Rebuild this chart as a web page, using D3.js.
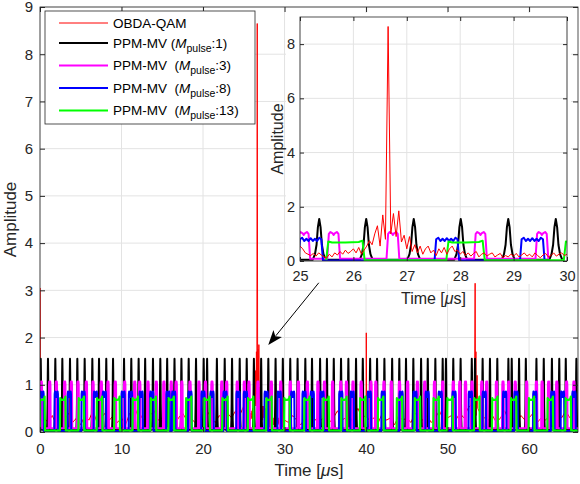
<!DOCTYPE html>
<html>
<head>
<meta charset="utf-8">
<script src="https://cdn.jsdelivr.net/npm/d3@7"></script>
<style>
	body { margin: 0; background: #fff; }
	svg { font-family: "Liberation Sans", Arial, Helvetica, sans-serif; }
	.tick text { fill: #262626; }
	.axis line { stroke: #262626; }
	.axis path { display: none; }
	.grid line { stroke: #e3e3e3; stroke-width: 1; }
</style>
</head>
<body>
<div id="graphic"></div>
<script>
// ---- data ----
const xTicks = [0, 10, 20, 30, 40, 50, 60];
const yTicks = [0, 1, 2, 3, 4, 5, 6, 7, 8, 9];
const insetXTicks = [25, 26, 27, 28, 29, 30];
const insetYTicks = [0, 2, 4, 6, 8];

const seriesNames = ['OBDA-QAM', 'PPM-MV', 'PPM-MV', 'PPM-MV', 'PPM-MV'];
const seriesMpulse = [null, 1, 3, 8, 13];
const seriesColours = ['#ff0000', '#000000', '#ff00ff', '#0000ff', '#00ff00'];

// pulse centres in microseconds
const blackPulses = [0.09, 0.98, 1.88, 2.74, 3.68, 4.58, 5.48, 6.42, 7.24, 8.13, 8.96, 10.31, 11.2, 12.1, 12.9,
	13.86, 14.76, 15.6, 16.5, 17.35, 18.24, 19.14, 20.08, 20.5, 21.7, 22.66, 23.56, 24.5, 25.36, 26.24, 27.13,
	28.01, 28.9, 29.79, 30.7, 31.6, 32.55, 33.37, 34.36, 35.2, 36.04, 36.93, 37.83, 38.77, 39.6, 40.5, 41.35,
	42.25, 43.2, 44.08, 44.9, 45.8, 46.75, 47.57, 48.5, 49.4, 49.8, 50.7, 51.6, 52.97, 53.37, 54.3, 55.2, 56.1,
	57.46, 57.87, 58.77, 59.6, 60.9, 61.8, 62.8, 63.7, 64.5, 65.8];
const magentaPulses = [0.16, 1.19, 2.0, 3.03, 3.84, 4.66, 5.68, 6.5, 7.52, 8.34, 9.24, 10.39, 11.62, 12.23, 13.25,
	14.27, 15.2, 16.1, 16.7, 17.4, 18.4, 19.5, 20.3, 21.1, 22.3, 22.9, 24.2, 25.07, 25.63, 26.74, 28.38, 29.53,
	30.7, 31.7, 32.8, 34.1, 34.9, 35.9, 36.9, 37.6, 38.4, 39.4, 40.6, 41.2, 42.2, 43.1, 44.1, 45.1, 46.3, 47.2,
	48.4, 49.4, 50.7, 51.5, 52.2, 53.0, 54.2, 54.8, 56.0, 56.8, 57.5, 58.3, 59.7, 60.9, 61.6, 62.4, 63.4, 64.6, 65.5];
const bluePulses = [0.25, 2.0, 3.6, 5.3, 6.8, 7.9, 10.2, 11.1, 12.4, 13.7, 15.7, 16.4, 18.4, 20.0, 21.1, 22.7,
	24.3, 25.2, 27.75, 29.35, 31.0, 32.4, 33.4, 34.6, 36.9, 38.3, 40.4, 42.1, 44.3, 46.0, 47.5, 49.1, 50.8, 52.8,
	54.5, 57.0, 58.4, 60.7, 62.9, 64.1, 65.5];
const greenPulses = [0.25, 2.8, 5.07, 7.3, 9.45, 11.7, 13.9, 16.1, 18.25, 20.5, 22.7, 25.85, 28.1, 30.3, 32.76,
	35.1, 37.3, 39.6, 41.8, 44.1, 46.3, 48.6, 50.3, 53.6, 55.8, 58.1, 60.3, 62.6, 64.8];

// pulse profiles: offset from centre (us) and amplitude
const blackShapeT = [-0.12, -0.08, -0.05, -0.025, 0, 0.025, 0.05, 0.08, 0.12];
const blackShapeA = [0.05, 0.25, 0.6, 1.25, 1.55, 1.25, 0.6, 0.25, 0.05];
const magentaShapeT = [-0.12, -0.09, -0.06, -0.02, 0, 0.02, 0.06, 0.09, 0.12];
const magentaShapeA = [0.08, 1.0, 1.07, 1.02, 0.96, 1.02, 1.07, 1.0, 0.08];
const blueShapeT = [-0.23, -0.2, -0.16, -0.12, -0.08, -0.04, 0, 0.04, 0.08, 0.12, 0.16, 0.2, 0.23];
const blueShapeA = [0.02, 0.8, 0.86, 0.74, 0.82, 0.74, 0.84, 0.74, 0.82, 0.74, 0.86, 0.8, 0.02];
const greenShapeT = [-0.36, -0.32, -0.25, 0, 0.25, 0.32, 0.36];
const greenShapeA = [0.03, 0.72, 0.68, 0.68, 0.7, 0.75, 0.03];
const baselines = [0.05, 0.08, 0.02, 0.03];

// OBDA-QAM: coarse samples every 0.5 us from 0 to 66
const redCoarse = [0.4, 0.3, 0.2, 0.35, 0.15, 0.3, 0.25, 0.4, 0.2, 0.3,
	0.15, 0.35, 0.25, 0.45, 0.2, 0.3, 0.4, 0.25, 0.35, 0.2,
	0.3, 0.15, 0.4, 0.25, 0.5, 0.3, 0.2, 0.35, 0.45, 0.25,
	0.3, 0.2, 0.35, 0.15, 0.3, 0.4, 0.25, 0.3, 0.2, 0.35,
	0.25, 0.45, 0.3, 0.2, 0.35, 0.25, 0.4, 0.3, 0.45, 0.35,
	0.55, 0.3, 0.4, 0.5, 0.6, 0.45, 0.35, 0.4, 0.3, 0.25,
	0.3, 0.2, 0.35, 0.25, 0.15, 0.3, 0.4, 0.2, 0.3, 0.25,
	0.35, 0.2, 0.3, 0.45, 0.25, 0.3, 0.2, 0.35, 0.5, 0.3,
	0.35, 0.25, 0.3, 0.2, 0.4, 0.25, 0.3, 0.15, 0.35, 0.25,
	0.3, 0.2, 0.4, 0.3, 0.25, 0.35, 0.2, 0.3, 0.45, 0.25,
	0.3, 0.35, 0.25, 0.4, 0.3, 0.5, 0.6, 0.35, 0.4, 0.3,
	0.25, 0.35, 0.2, 0.3, 0.45, 0.25, 0.3, 0.2, 0.35, 0.25,
	0.3, 0.4, 0.2, 0.3, 0.25, 0.35, 0.2, 0.4, 0.3, 0.45,
	0.3, 0.25, 0.35];
// fine samples every 0.05 us from 25 to 30 (inset range)
const redFine = [0.55, 0.45, 0.30, 0.25, 0.20, 0.28, 0.18, 0.30, 0.22, 0.15,
	0.12, 0.25, 0.15, 0.30, 0.22, 0.35, 0.25, 0.40, 0.28, 0.35,
	0.45, 0.30, 0.50, 0.25, 0.40, 0.55, 0.75, 0.60, 1.00, 1.30,
	0.55, 1.70, 0.80, 8.65, 1.00, 1.75, 0.90, 1.85, 0.70, 0.95,
	0.45, 0.90, 0.35, 0.60, 0.30, 0.55, 0.25, 0.45, 0.55, 0.30,
	0.40, 0.20, 0.45, 0.30, 0.50, 0.25, 0.45, 0.55, 0.35, 0.40,
	0.25, 0.35, 0.20, 0.30, 0.18, 0.28, 0.35, 0.15, 0.25, 0.30,
	0.18, 0.25, 0.30, 0.15, 0.22, 0.28, 0.12, 0.20, 0.15, 0.25,
	0.18, 0.28, 0.15, 0.22, 0.30, 0.18, 0.25, 0.15, 0.30, 0.20,
	0.12, 0.22, 0.28, 0.15, 0.20, 0.30, 0.18, 0.25, 0.30, 0.20,
	0.25];
// isolated OBDA-QAM peaks outside the inset: [time, amplitude]
const redSpikes = [[0, 3.05], [0.05, 0.6], [39.98, 0.35], [40.03, 2.1], [40.08, 0.3],
	[53.3, 0.5], [53.38, 3.15], [53.42, 1.0], [53.48, 1.7], [53.55, 0.7], [53.62, 1.2], [53.7, 0.5]];

// arrow from inset down to the peak: [time, amplitude]
const arrowFrom = [34.2, 3.16];
const arrowTo = [28.0, 1.84];

// ---- build series ----
function pulseTrain(centres, shapeT, shapeA, base) {
	let pts = [[0, base]];
	centres.forEach(function (c) {
		shapeT.forEach((dt, i) => pts.push([c + dt, shapeA[i]]));
	});
	pts.push([66, base]);
	return pts.sort((a, b) => a[0] - b[0]);
}

function redSeries() {
	let pts = [];
	redCoarse.forEach(function (v, i) {
		let t = i * 0.5;
		if (t < 25 || t > 30) pts.push([t, v]);
	});
	redFine.forEach((v, i) => pts.push([25 + i * 0.05, v]));
	redSpikes.forEach((d) => pts.push(d));
	return pts.sort((a, b) => a[0] - b[0]);
}

const series = [
	redSeries(),
	pulseTrain(blackPulses, blackShapeT, blackShapeA, baselines[0]),
	pulseTrain(magentaPulses, magentaShapeT, magentaShapeA, baselines[1]),
	pulseTrain(bluePulses, blueShapeT, blueShapeA, baselines[2]),
	pulseTrain(greenPulses, greenShapeT, greenShapeA, baselines[3])
];

// ---- layout ----
const width = 580, height = 484;
const main = { left: 40, right: 578, top: 7, bottom: 432 };
const ins = { left: 300, right: 567, top: 17, bottom: 261 };
const textColour = '#262626';
const mainWidths = [1, 2, 2, 2, 2.2];

const svg = d3.select('#graphic').append('svg')
	.attr('width', width)
	.attr('height', height);

const defs = svg.append('defs');
defs.append('clipPath').attr('id', 'clipMain')
	.append('rect')
	.attr('x', main.left).attr('y', main.top)
	.attr('width', main.right - main.left).attr('height', main.bottom - main.top);
defs.append('clipPath').attr('id', 'clipInset')
	.append('rect')
	.attr('x', ins.left).attr('y', ins.top)
	.attr('width', ins.right - ins.left).attr('height', ins.bottom - ins.top);

function drawGrid(g, x, y, box, xt, yt) {
	g.append('g').attr('class', 'grid')
		.selectAll('line').data(xt).join('line')
		.attr('x1', (d) => x(d)).attr('x2', (d) => x(d))
		.attr('y1', box.top).attr('y2', box.bottom);
	g.append('g').attr('class', 'grid')
		.selectAll('line').data(yt).join('line')
		.attr('x1', box.left).attr('x2', box.right)
		.attr('y1', (d) => y(d)).attr('y2', (d) => y(d));
}

function drawFrame(g, x, y, box, xt, yt, o) {
	let tk = o.tick;
	let fmt = d3.format('d');
	g.append('g').attr('class', 'axis')
		.attr('transform', 'translate(0,' + box.bottom + ')')
		.call(d3.axisBottom(x).tickValues(xt).tickFormat(fmt).tickSizeInner(-tk).tickSizeOuter(0).tickPadding(o.xPad))
		.selectAll('text').attr('font-size', o.font);
	g.append('g').attr('class', 'axis')
		.attr('transform', 'translate(' + box.left + ',0)')
		.call(d3.axisLeft(y).tickValues(yt).tickFormat(fmt).tickSizeInner(-tk).tickSizeOuter(0).tickPadding(o.yPad))
		.selectAll('text').attr('font-size', o.font);
	g.append('g').attr('class', 'axis')
		.attr('transform', 'translate(0,' + box.top + ')')
		.call(d3.axisTop(x).tickValues(xt).tickSizeInner(-tk).tickSizeOuter(0).tickFormat(''));
	g.append('g').attr('class', 'axis')
		.attr('transform', 'translate(' + box.right + ',0)')
		.call(d3.axisRight(y).tickValues(yt).tickSizeInner(-tk).tickSizeOuter(0).tickFormat(''));
	g.append('rect')
		.attr('x', box.left).attr('y', box.top)
		.attr('width', box.right - box.left).attr('height', box.bottom - box.top)
		.attr('fill', 'none').attr('stroke', textColour).attr('stroke-width', 0.8);

	// axis labels
	let xl = g.append('text')
		.attr('x', (box.left + box.right) / 2)
		.attr('y', o.xLabelY)
		.attr('text-anchor', 'middle')
		.attr('font-size', o.labelFont)
		.attr('fill', textColour);
	xl.append('tspan').text('Time [');
	xl.append('tspan').attr('font-style', 'italic').text('\u03bc');
	xl.append('tspan').text('s]');

	g.append('text')
		.attr('transform', 'translate(' + o.yLabelX + ',' + (box.top + box.bottom) / 2 + ') rotate(-90)')
		.attr('text-anchor', 'middle')
		.attr('font-size', o.labelFont)
		.attr('fill', textColour)
		.text('Amplitude');
}

// ---- main chart ----
const x = d3.scaleLinear().domain([0, 66]).range([main.left, main.right]);
const y = d3.scaleLinear().domain([0, 9]).range([main.bottom, main.top]);

drawGrid(svg.append('g'), x, y, main, xTicks, yTicks);

// inset area is painted white over the main grid
svg.append('rect')
	.attr('x', 286).attr('y', 13)
	.attr('width', 285).attr('height', 271)
	.attr('fill', '#fff');

const lineMain = d3.line().x((d) => x(d[0])).y((d) => y(d[1]));
svg.append('g').attr('clip-path', 'url(#clipMain)')
	.selectAll('path').data(series).join('path')
	.attr('d', lineMain)
	.attr('fill', 'none')
	.attr('stroke', (d, i) => seriesColours[i])
	.attr('stroke-width', (d, i) => mainWidths[i])
	.attr('stroke-linejoin', 'round');

drawFrame(svg.append('g'), x, y, main, xTicks, yTicks,
	{ tick: 5, xPad: 11, yPad: 7, font: 15, labelFont: 17, xLabelY: 476, yLabelX: 16 });

// ---- arrow ----
const ax0 = x(arrowFrom[0]), ay0 = y(arrowFrom[1]);
const ax1 = x(arrowTo[0]), ay1 = y(arrowTo[1]);
const len = Math.hypot(ax1 - ax0, ay1 - ay0);
const ux = (ax1 - ax0) / len, uy = (ay1 - ay0) / len;
const headL = 15, headW = 5.5;
svg.append('line')
	.attr('x1', ax0).attr('y1', ay0)
	.attr('x2', ax1 - ux * headL * 0.8).attr('y2', ay1 - uy * headL * 0.8)
	.attr('stroke', '#000').attr('stroke-width', 1);
svg.append('path')
	.attr('d', 'M' + ax1 + ',' + ay1 +
		'L' + (ax1 - ux * headL - uy * headW) + ',' + (ay1 - uy * headL + ux * headW) +
		'L' + (ax1 - ux * headL * 0.75) + ',' + (ay1 - uy * headL * 0.75) +
		'L' + (ax1 - ux * headL + uy * headW) + ',' + (ay1 - uy * headL - ux * headW) + 'Z')
	.attr('fill', '#000');

// ---- legend ----
const legend = svg.append('g');
legend.append('rect')
	.attr('x', 45).attr('y', 11).attr('width', 210).attr('height', 113)
	.attr('fill', '#fff').attr('stroke', textColour).attr('stroke-width', 0.8);
const legendRowY = [23, 43, 65.5, 88, 110.5];
const items = legend.selectAll('g.item').data(seriesNames).join('g')
	.attr('transform', (d, i) => 'translate(0,' + legendRowY[i] + ')');
items.append('line')
	.attr('x1', 59).attr('x2', 108)
	.attr('stroke', (d, i) => seriesColours[i])
	.attr('stroke-width', (d, i) => (i == 0 ? 1 : 1.8));
items.each(function (d, i) {
	let t = d3.select(this).append('text')
		.attr('x', 113).attr('y', 4.5)
		.attr('font-size', 13.5)
		.attr('fill', '#000');
	if (seriesMpulse[i] == null) {
		t.text(d);
	} else {
		t.append('tspan').text(d + (i == 1 ? ' (' : '\u00a0\u00a0('));
		t.append('tspan').attr('font-style', 'italic').text('M');
		t.append('tspan').attr('font-size', 10.5).attr('dy', 4).text('pulse');
		t.append('tspan').attr('dy', -4).text(':' + seriesMpulse[i] + ')');
	}
});

// ---- inset ----
const xi = d3.scaleLinear().domain([25, 30]).range([ins.left, ins.right]);
const yi = d3.scaleLinear().domain([0, 9]).range([ins.bottom, ins.top]);
const gIns = svg.append('g');
gIns.append('rect')
	.attr('x', ins.left).attr('y', ins.top)
	.attr('width', ins.right - ins.left).attr('height', ins.bottom - ins.top)
	.attr('fill', '#fff');
drawGrid(gIns, xi, yi, ins, insetXTicks, insetYTicks);

const lineIns = d3.line().x((d) => xi(d[0])).y((d) => yi(d[1]));
const insetOrder = [1, 2, 3, 4, 0];
gIns.append('g').attr('clip-path', 'url(#clipInset)')
	.selectAll('path').data(insetOrder).join('path')
	.attr('d', (k) => lineIns(series[k].filter((p) => p[0] >= 24.5 && p[0] <= 30.5)))
	.attr('fill', 'none')
	.attr('stroke', (k) => seriesColours[k])
	.attr('stroke-width', (k) => (k == 0 ? 1 : 2))
	.attr('stroke-linejoin', 'round');

drawFrame(gIns.append('g'), xi, yi, ins, insetXTicks, insetYTicks,
	{ tick: 4, xPad: 10, yPad: 5, font: 14.5, labelFont: 16, xLabelY: 304, yLabelX: 283 });
</script>
</body>
</html>
